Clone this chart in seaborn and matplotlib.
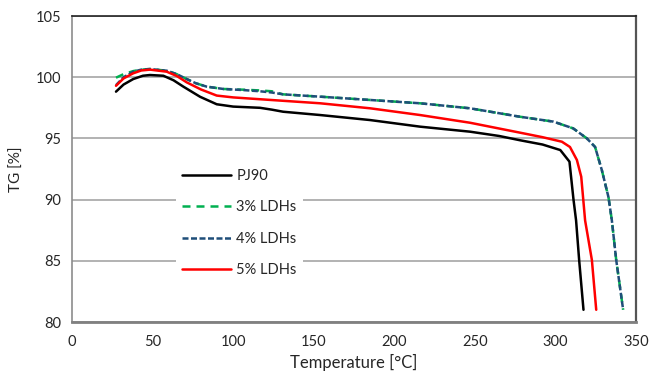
import matplotlib
matplotlib.use('Agg')
import matplotlib.pyplot as plt
import seaborn as sns
from matplotlib.ticker import MultipleLocator

# values
pj90_t = [27.3, 32, 38, 44, 48.4, 56.7, 63, 69.1, 79.5, 89.8, 100, 116.7, 124, 131,
          154, 185, 216, 247, 265, 278, 292, 303, 308.7, 311.2, 312.8, 314.7, 317.4]
pj90_tg = [98.82, 99.4, 99.85, 100.12, 100.18, 100.12, 99.75, 99.23, 98.4, 97.79, 97.6, 97.5, 97.35, 97.18,
           96.91, 96.5, 95.96, 95.55, 95.2, 94.85, 94.5, 94.05, 93.1, 90.0, 88.3, 85.07, 81.0]

ldh3_t = [27.3, 32, 38, 43, 48.4, 58.8, 65, 71.2, 77, 83.6, 93.9, 106.3, 116.7, 124, 131,
          154, 185, 216, 247, 278, 298.8, 311, 319.5, 324.6, 328.8, 332.9, 335, 337.7, 342]
ldh3_tg = [99.96, 100.25, 100.5, 100.62, 100.67, 100.53, 100.25, 99.85, 99.5, 99.23, 99.04, 98.98, 98.92, 98.85, 98.6,
           98.41, 98.14, 97.87, 97.46, 96.77, 96.37, 95.82, 95.0, 94.3, 92.4, 90.2, 88.3, 85.07, 81.0]

ldh4_t = [27.3, 32, 38, 43, 48.4, 58.8, 65, 71.2, 77, 83.6, 93.9, 106.3, 116.7, 124, 131,
          154, 185, 216, 247, 278, 298.8, 311, 319.5, 324.6, 328.8, 332.9, 335, 337.7, 342]
ldh4_tg = [99.35, 100.0, 100.45, 100.62, 100.67, 100.53, 100.25, 99.85, 99.5, 99.23, 99.04, 98.95, 98.85, 98.75, 98.6,
           98.41, 98.14, 97.87, 97.46, 96.77, 96.37, 95.82, 95.0, 94.3, 92.4, 90.2, 88.3, 85.07, 81.0]

ldh5_t = [27.3, 32, 38, 43, 48.4, 58.8, 65, 71.2, 80, 89.8, 100, 116.7, 154, 185, 216, 247,
          278, 292, 304, 309, 313.3, 316, 318.4, 322.6, 325.3]
ldh5_tg = [99.3, 99.9, 100.32, 100.55, 100.62, 100.45, 100.1, 99.58, 99.0, 98.5, 98.35, 98.2, 97.87, 97.46, 96.91, 96.28,
           95.47, 95.1, 94.73, 94.3, 93.24, 91.87, 88.3, 85.07, 81.0]

sns.set_style('white')
plt.rcParams['font.family'] = ['Lato', 'DejaVu Sans']
plt.rcParams['font.size'] = 10.5

fig = plt.figure(figsize=(6.51, 3.75), dpi=100)
ax = fig.add_axes([0.1106, 0.1413, 0.8664, 0.816])

lw = 1.8
sns.lineplot(x=pj90_t, y=pj90_tg, ax=ax, color='black', lw=lw, sort=False, label='PJ90', zorder=4)
sns.lineplot(x=ldh3_t, y=ldh3_tg, ax=ax, color='#00B050', lw=lw, sort=False, label='3% LDHs',
             dashes=(3.2, 2.4), zorder=2)
sns.lineplot(x=ldh4_t, y=ldh4_tg, ax=ax, color='#1F4E79', lw=lw, sort=False, label='4% LDHs',
             dashes=(2.4, 1.0), zorder=3)
sns.lineplot(x=ldh5_t, y=ldh5_tg, ax=ax, color='#FF0000', lw=lw, sort=False, label='5% LDHs', zorder=5)

ax.set_xlim(0, 350)
ax.set_ylim(80, 105)
ax.xaxis.set_major_locator(MultipleLocator(50))
ax.xaxis.set_minor_locator(MultipleLocator(10))
ax.yaxis.set_major_locator(MultipleLocator(5))
ax.grid(axis='y', color='#A6A6A6', lw=1.2)
ax.grid(axis='x', visible=False)
ax.set_axisbelow(True)

ax.spines['left'].set_color('#8C8C8C')
ax.spines['left'].set_linewidth(1.2)
ax.spines['bottom'].set_color('#808080')
ax.spines['bottom'].set_linewidth(2)
ax.spines['top'].set_color('#222222')
ax.spines['top'].set_linewidth(1.2)
ax.spines['right'].set_color('#555555')
ax.spines['right'].set_linewidth(1.6)

ax.tick_params(axis='x', which='major', direction='inout', length=8, width=1.2, color='#808080', pad=5)
ax.tick_params(axis='x', which='minor', direction='in', length=4, width=1, color='#808080')
ax.tick_params(axis='y', which='both', length=0, pad=8)

ax.set_xlabel('Temperature [°C]', fontsize=12, labelpad=4)
ax.set_ylabel('TG [%]', fontsize=11, labelpad=8)

leg = ax.legend(loc='center left', bbox_to_anchor=(0.184, 0.3235), borderaxespad=0,
                frameon=True, facecolor='white', edgecolor='none', framealpha=1,
                handlelength=3.4, handletextpad=0.35, labelspacing=1.2, fancybox=False)

fig.savefig('out.png', dpi=100)
